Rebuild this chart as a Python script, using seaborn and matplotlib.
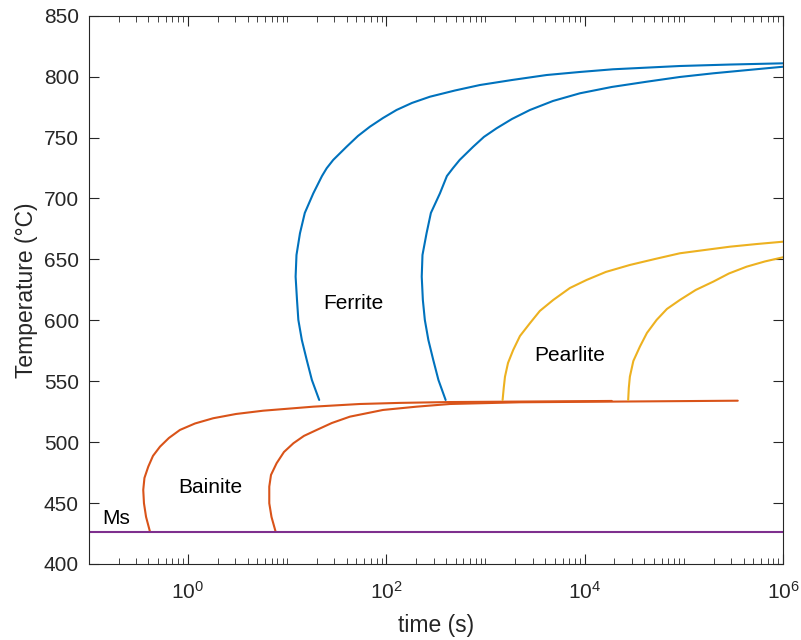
import matplotlib
matplotlib.use("Agg")
import matplotlib.pyplot as plt
import matplotlib.ticker as mticker
import numpy as np
import pandas as pd
import seaborn as sns

# curves (time in s, temperature in C)
ferrite_start_t = [21.1, 17.8, 15.8, 14.1, 13.0, 12.6, 12.2, 12.45, 13.5, 15.1, 18.4, 22.5, 25.1, 29.2, 39.9,
                   51.9, 68.5, 92.7, 127, 182, 276, 493, 881, 1850, 4140, 8970, 19300, 91400, 292000, 1e6]
ferrite_start_T = [534.6, 551.0, 567.4, 583.8, 600.3, 616.7, 635.8, 653.6, 671.4, 688.1, 704.2, 718.4, 724.8, 731.6, 742.5,
                   751.3, 758.9, 766.0, 772.6, 778.4, 783.5, 788.6, 793.1, 797.2, 801.3, 803.8, 806.0, 808.7, 809.9, 810.9]

ferrite_end_t = [397, 336, 298, 266, 245, 234, 228, 232, 255, 282, 348, 409, 470, 550, 754,
                 966, 1297, 1850, 2810, 4800, 8970, 18800, 42200, 91400, 198000, 443000, 1e6]
ferrite_end_T = [534.6, 551.0, 567.4, 583.8, 600.3, 616.7, 635.8, 653.6, 671.4, 688.1, 704.2, 718.4, 724.8, 731.6, 742.5,
                 750.5, 757.6, 765.2, 772.6, 780.0, 786.3, 791.5, 795.8, 799.7, 802.7, 805.4, 808.1]

bainite_start_t = [0.415, 0.379, 0.361, 0.355, 0.365, 0.399, 0.445, 0.524, 0.644, 0.832, 1.18, 1.80, 3.06,
                   5.75, 18.4, 54.3, 137, 439, 18800]
bainite_start_T = [426.5, 438.6, 449.8, 460.8, 470.6, 479.9, 488.7, 496.3, 503.4, 510.0, 515.3, 519.6, 523.1,
                   525.8, 529.1, 531.3, 532.2, 532.9, 533.8]

bainite_end_t = [7.67, 6.97, 6.62, 6.62, 6.89, 7.85, 9.31, 11.6, 14.8, 19.9, 28.3, 43, 92.7, 202, 439, 2230, 350000]
bainite_end_T = [426.5, 438.6, 449.8, 463.5, 473.1, 482.7, 491.9, 499.1, 505.1, 510.0, 515.7, 520.9, 526.4, 529.1,
                 531.3, 532.7, 534.0]

pearlite_start_t = [1490, 1530, 1575, 1690, 1905, 2230, 2810, 3540, 4830, 7110, 10470, 16400, 28600, 51200,
                    91400, 163000, 292000, 546000, 1e6]
pearlite_start_T = [534.6, 544.5, 553.7, 565.0, 575.6, 587.1, 597.6, 607.7, 616.7, 626.5, 633.1, 639.7, 645.4, 650.3,
                    655.0, 657.7, 660.4, 662.6, 664.5]

pearlite_end_t = [27500, 27900, 28600, 31000, 36100, 42500, 53200, 67600, 91400, 132000, 198000, 285000, 430000,
                  658000, 1e6]
pearlite_end_T = [534.6, 544.5, 553.7, 566.6, 578.4, 589.6, 600.3, 609.3, 616.7, 624.9, 631.7, 638.4, 644.0,
                  648.3, 651.7]

ms_t = [0.1, 1e6]
ms_T = [426.5, 426.5]

labels = ["Ferrite", "Pearlite", "Bainite", "Ms"]
label_t = [47, 7100, 1.67, 0.19]
label_T = [614, 571.5, 463, 437]

blue = "#0072BD"
orange = "#D95319"
yellow = "#EDB120"
purple = "#7E2F8E"

sns.set_style("ticks")
plt.rcParams["font.family"] = ["Liberation Sans", "DejaVu Sans"]
plt.rcParams["mathtext.fontset"] = "custom"
plt.rcParams["mathtext.rm"] = "Liberation Sans"
plt.rcParams["mathtext.it"] = "Liberation Sans"

fig = plt.figure(figsize=(8.01, 6.40), dpi=100)
ax = fig.add_axes([0.1107, 0.1188, 0.8668, 0.8567])

curves = [
    (ferrite_start_t, ferrite_start_T, blue),
    (ferrite_end_t, ferrite_end_T, blue),
    (bainite_start_t, bainite_start_T, orange),
    (bainite_end_t, bainite_end_T, orange),
    (pearlite_start_t, pearlite_start_T, yellow),
    (pearlite_end_t, pearlite_end_T, yellow),
    (ms_t, ms_T, purple),
]
for t, T, c in curves:
    df = pd.DataFrame({"t": t, "T": T})
    sns.lineplot(data=df, x="t", y="T", sort=False, estimator=None,
                 color=c, linewidth=1.5, ax=ax)

for s, t, T in zip(labels, label_t, label_T):
    ax.text(t, T, s, ha="center", va="center", fontsize=15, color="black")

ax.set_xscale("log")
ax.set_xlim(0.1, 1e6)
ax.set_ylim(400, 850)
ax.set_xticks([1, 1e2, 1e4, 1e6])
ax.xaxis.set_minor_locator(mticker.LogLocator(base=10, subs=np.arange(1, 10), numticks=50))
ax.xaxis.set_minor_formatter(mticker.NullFormatter())
ax.set_yticks(np.arange(400, 851, 50))

ax.set_xlabel("time (s)", fontsize=16.5, color="#262626", labelpad=8)
ax.set_ylabel("Temperature (°C)", fontsize=16.5, color="#262626")

for sp in ax.spines.values():
    sp.set_visible(True)
    sp.set_color("#262626")
    sp.set_linewidth(0.8)
ax.tick_params(which="both", direction="in", top=True, right=True,
               colors="#262626", labelsize=15, labelcolor="#262626")
ax.tick_params(which="major", length=7)
ax.tick_params(which="minor", length=4)
ax.tick_params(axis="x", which="major", pad=12)
ax.tick_params(axis="y", which="major", pad=7)

fig.savefig("out.png", dpi=100)
